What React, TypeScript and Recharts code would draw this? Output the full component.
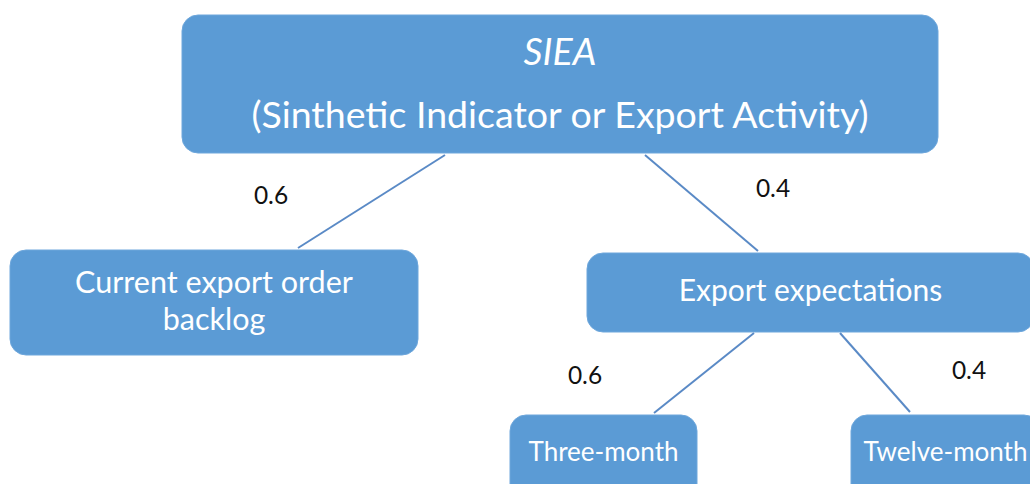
import React from "react";
import { ComposedChart, XAxis, YAxis, ReferenceArea, ReferenceLine, ReferenceDot } from "recharts";

// Node labels (lines of text per node)
const nodeLabels: string[][] = [
  ["SIEA", "(Sinthetic Indicator or Export Activity)"],
  ["Current export order", "backlog"],
  ["Export expectations"],
  ["Three-month"],
  ["Twelve-month"],
];
// Node layout in diagram units [x1, x2, y1, y2]
const nodeX1 = [182, 10, 587, 510, 851];
const nodeX2 = [938, 418, 1034, 697, 1040];
const nodeY1 = [15, 250, 253, 415, 415];
const nodeY2 = [153, 355, 332, 500, 500];
const nodeFont = [37.5, 30.5, 30, 26, 26];
const nodeLineY = [[50, 113], [281, 318], [289], [451], [451]];
const nodeItalicFirst = [true, false, false, false, false];

// Edges: weights and connector endpoints
const edgeWeights = ["0.6", "0.4", "0.6", "0.4"];
const edgeFromX = [445, 645, 754, 840];
const edgeFromY = [155, 155, 333, 333];
const edgeToX = [298, 758, 654, 910];
const edgeToY = [248, 251, 413, 412];
const weightX = [271, 773, 585, 969];
const weightY = [194, 187, 374, 369];

const BOX = "#5b9bd5";
const LINE = "#5a8ac6";
const FONT = "Lato, 'Open Sans', sans-serif";

export default function App() {
  return (
    <div style={{ position: "absolute", left: 0, top: 0, background: "#fff" }}>
      <ComposedChart width={1030} height={484} margin={{ top: 0, right: 0, bottom: 0, left: 0 }} data={[]}>
        <XAxis type="number" dataKey="x" domain={[0, 1030]} hide allowDataOverflow />
        <YAxis type="number" domain={[0, 484]} reversed hide allowDataOverflow />
        {edgeWeights.map((w, i) => (
          <ReferenceLine
            key={"e" + i}
            segment={[
              { x: edgeFromX[i], y: edgeFromY[i] },
              { x: edgeToX[i], y: edgeToY[i] },
            ]}
            stroke={LINE}
            strokeWidth={2}
            ifOverflow="visible"
          />
        ))}
        {nodeLabels.map((lines, i) => (
          <ReferenceArea
            key={"n" + i}
            x1={nodeX1[i]}
            x2={nodeX2[i]}
            y1={nodeY1[i]}
            y2={nodeY2[i]}
            ifOverflow="visible"
            shape={(p: any) => {
              const cx = p.x + p.width / 2;
              return (
                <g>
                  <rect x={p.x} y={p.y} width={p.width} height={p.height} rx={16} ry={16} fill={BOX} stroke="#6ea7dc" strokeWidth={1} />
                  {lines.map((t, j) => (
                    <text
                      key={j}
                      x={cx}
                      y={p.y + (nodeLineY[i][j] - nodeY1[i])}
                      textAnchor="middle"
                      dominantBaseline="central"
                      fill="#ffffff"
                      fontFamily={FONT}
                      fontSize={nodeFont[i]}
                      fontStyle={j === 0 && nodeItalicFirst[i] ? "italic" : "normal"}
                    >
                      {t}
                    </text>
                  ))}
                </g>
              );
            }}
          />
        ))}
        {edgeWeights.map((w, i) => (
          <ReferenceDot
            key={"w" + i}
            x={weightX[i]}
            y={weightY[i]}
            r={0}
            ifOverflow="visible"
            shape={(p: any) => (
              <text x={p.cx} y={p.cy} textAnchor="middle" dominantBaseline="central" fill="#111" fontFamily={FONT} fontSize={24.5}>
                {w}
              </text>
            )}
          />
        ))}
      </ComposedChart>
    </div>
  );
}
